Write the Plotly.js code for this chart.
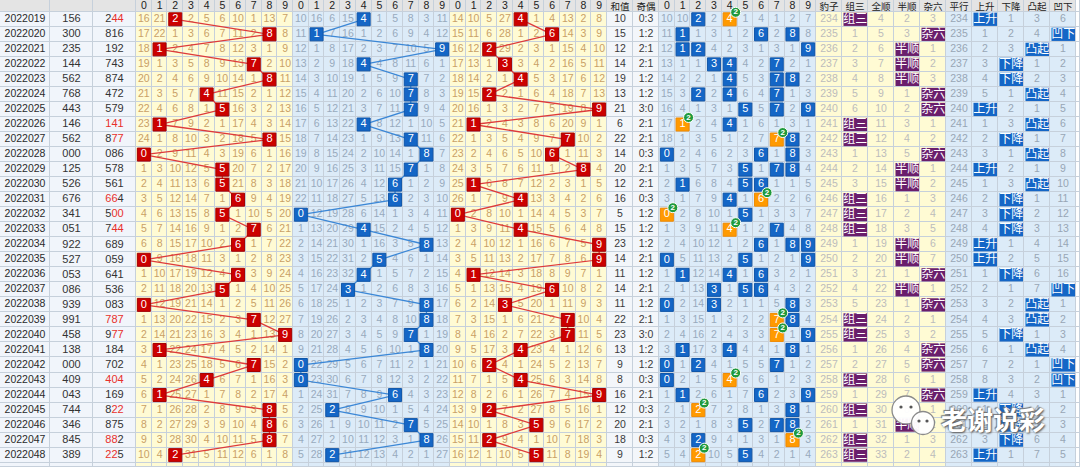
<!DOCTYPE html>
<html><head><meta charset="utf-8">
<script src="https://cdn.plot.ly/plotly-3.0.1.min.js"></script>
<style>html,body{margin:0;padding:0;background:#fff;}#chart{width:1080px;height:467px;}</style>
</head><body><div id="chart"></div>
<script>
// ---------------- DATA ----------------
const periods = ['2022019','2022020','2022021','2022022','2022023','2022024','2022025','2022026','2022027','2022028','2022029','2022030','2022031','2022032','2022033','2022034','2022035','2022036','2022037','2022038','2022039','2022040','2022041','2022042','2022043','2022044','2022045','2022046','2022047','2022048'];
const testNums = ['156','300','235','144','562','768','443','146','562','000','125','526','676','341','051','922','527','053','086','939','991','458','138','000','409','043','744','346','845','389'];
const drawNums = ['244','816','192','743','874','472','579','141','877','086','578','561','664','500','744','689','059','641','536','083','787','977','184','702','404','169','822','875','882','225'];
const sums = [10,15,12,14,19,13,21,6,22,14,20,12,16,5,15,23,14,11,14,11,22,23,13,9,8,16,12,20,18,9];
const oddEven = ['0:3','1:2','2:1','2:1','1:2','1:2','3:0','2:1','2:1','0:3','2:1','2:1','0:3','1:2','1:2','1:2','2:1','1:2','2:1','1:2','2:1','3:0','1:2','1:2','0:3','2:1','0:3','2:1','0:3','1:2'];
const shapeOf = ['组三','杂六','半顺','半顺','半顺','杂六','杂六','组三','组三','杂六','半顺','半顺','组三','组三','组三','半顺','半顺','杂六','半顺','杂六','组三','组三','杂六','杂六','组三','杂六','组三','半顺','组三','组三'];
const trendOf = ['上升','凹下','凸起','下降','下降','凸起','上升','凸起','下降','凸起','上升','凸起','下降','下降','下降','上升','上升','下降','凹下','凸起','凸起','下降','凸起','凹下','凹下','上升','下降','下降','下降','上升'];
const digitLabels = ['0','1','2','3','4','5','6','7','8','9'];
const shapeLabels = ['豹子','组三','全顺','半顺','杂六'];
const trendLabels = ['平行','上升','下降','凸起','凹下'];
// omission counts shown in the first row (2022019), hit cells = 0
const hundredsFirst = [16,21,0,2,5,6,10,1,13,7];
const tensFirst     = [10,16,6,15,0,1,5,8,3,11];
const unitsFirst    = [14,10,5,27,0,1,4,13,2,8];
const distFirst     = [10,10,0,2,0,1,4,1,2,7];
const shapeFirst    = [234,0,4,2,3];
const trendFirst    = [234,0,1,3,6];

// ---------------- LAYOUT GEOMETRY ----------------
const ROW_H = 15.03, ROW0 = 19.3, H = 467;
const Y_TOP = -ROW0 / ROW_H, Y_BOT = (H - ROW0) / ROW_H;
const HEAD_Y = (6.6 - ROW0) / ROW_H;
const HEAD_Y_CJK = (7.4 - ROW0) / ROW_H;
const cols = [];
function addCol(w, kind, label) {
  const x0 = cols.length ? cols[cols.length - 1].x1 : 0;
  cols.push({x0, x1: x0 + w, xc: x0 + w / 2, kind, label});
  return cols[cols.length - 1];
}
const cPeriod = addCol(50, 0, '');
const cTest = addCol(43, 0, '');
const cDraw = addCol(43, 0, '');
const cH = digitLabels.map(d => addCol(15.7, 1, d));
const cT = digitLabels.map(d => addCol(15.7, 2, d));
const cU = digitLabels.map(d => addCol(15.7, 1, d));
const cSum = addCol(26, 4, '和值');
const cOE = addCol(26, 4, '奇偶');
const cD = digitLabels.map(d => addCol(15.7, 2, d));
const cS = shapeLabels.map(l => addCol(26, 1, l));
const cR = trendLabels.map(l => addCol(26, 2, l));
addCol(4, 5, '');

// ---------------- HELPERS ----------------
function omission(hitRows, first) {
  const out = []; let prev = null;
  hitRows.forEach((hits, r) => {
    const row = first.map((v, k) => hits.includes(k) ? 0 : (r === 0 ? v : prev[k] + 1));
    out.push(row); prev = row;
  });
  return out;
}
const digitsOf = drawNums.map(s => s.split('').map(Number));
const hHits = digitsOf.map(d => [d[0]]);
const tHits = digitsOf.map(d => [d[1]]);
const uHits = digitsOf.map(d => [d[2]]);
const dHits = digitsOf.map(d => [...new Set(d)]);
const sHits = shapeOf.map(s => [shapeLabels.indexOf(s)]);
const rHits = trendOf.map(s => [trendLabels.indexOf(s)]);
const hOm = omission(hHits, hundredsFirst), tOm = omission(tHits, tensFirst), uOm = omission(uHits, unitsFirst);
const dOm = omission(dHits, distFirst), sOm = omission(sHits, shapeFirst), rOm = omission(rHits, trendFirst);

function drawHtml(s) {
  const d = s.split('');
  const cnt = {}; d.forEach(c => cnt[c] = (cnt[c] || 0) + 1);
  const pairDigit = Object.keys(cnt).find(c => cnt[c] === 2);
  if (!pairDigit) return s;
  const allRed = d[0] === d[2];
  return d.map(c => (allRed || c === pairDigit) ? '<span style="color:#e8302c">' + c + '</span>' : c).join('');
}

const TG = {};
function addText(g, x, y, t) { (TG[g] = TG[g] || {x: [], y: [], text: []}); TG[g].x.push(x); TG[g].y.push(y); TG[g].text.push(t); }
const MK = {};
function addMark(g, x, y) { (MK[g] = MK[g] || {x: [], y: []}); MK[g].x.push(x); MK[g].y.push(y); }
const LN = {hund: {x: [], y: []}, tens: {x: [], y: []}, units: {x: [], y: []}};

// header
cols.forEach(c => {
  if (!c.label) return;
  if (/^\d$/.test(c.label)) addText('head', c.xc, HEAD_Y, c.label);
  else addText('headCJK', c.xc, HEAD_Y_CJK, c.label);
});

const shapesL = [];
const BADGE_DY = -7 / ROW_H;
function boxShape(c, r, color, label) {
  return {type: 'rect', xref: 'x', yref: 'y', x0: c.x0 + 1.5, x1: c.x1 - 1, y0: r - 0.44, y1: r + 0.44,
    fillcolor: color, line: {width: 0}, layer: 'above',
    label: {text: label, font: {family: 'Noto Sans CJK SC', size: 12, color: '#ffffff'}, textposition: 'middle center'}};
}
for (let r = 0; r < periods.length; r++) {
  addText('period', cPeriod.xc, r, periods[r]);
  addText('num', cTest.xc, r, testNums[r]);
  addText('num', cDraw.xc, r, drawHtml(drawNums[r]));
  [[cH, hOm, hHits, 'hund', 'red', 'yTxt'], [cT, tOm, tHits, 'tens', 'blue', 'bTxt'], [cU, uOm, uHits, 'units', 'red', 'yTxt']].forEach(([cc, om, hits, ln, mk, tg]) => {
    cc.forEach((c, k) => {
      if (hits[r].includes(k)) {
        addMark(mk, c.xc, r); addText('hitTxt', c.xc, r, digitLabels[k]);
        LN[ln].x.push(c.xc); LN[ln].y.push(r);
      } else addText(tg, c.xc, r, String(om[r][k]));
    });
  });
  addText('sum', cSum.xc, r, String(sums[r]));
  addText('sum', cOE.xc, r, oddEven[r]);
  cD.forEach((c, k) => {
    if (dHits[r].includes(k)) {
      const n = digitsOf[r].filter(v => v === k).length;
      if (n >= 2) {
        addMark('orange', c.xc, r);
        addMark('badge', c.xc + 6, r + BADGE_DY); addText('badgeTxt', c.xc + 6, r + BADGE_DY, String(n));
      } else addMark('blue', c.xc, r);
      addText('hitTxt', c.xc, r, digitLabels[k]);
    } else addText('bTxt', c.xc, r, String(dOm[r][k]));
  });
  cS.forEach((c, k) => {
    if (sHits[r].includes(k)) shapesL.push(boxShape(c, r, '#6a1e6c', shapeLabels[k]));
    else addText('sTxt', c.xc, r, String(sOm[r][k]));
  });
  cR.forEach((c, k) => {
    if (rHits[r].includes(k)) shapesL.push(boxShape(c, r, '#1466c6', trendLabels[k]));
    else addText('rTxt', c.xc, r, String(rOm[r][k]));
  });
}

// ---------------- TRACES ----------------
const bgColors = ['#f1f5fb', '#fffbd4', '#dcebf8', '#e4e4e4', '#f3f6fa', '#ffffff'];
const colorscale = [];
bgColors.forEach((c, k) => { colorscale.push([k / 6, c]); colorscale.push([(k + 1) / 6, c]); });
const xEdges = [0, ...cols.map(c => c.x1)];
const yEdges = [Y_TOP, -0.5];
for (let r = 0; r < periods.length; r++) yEdges.push(r + 0.5);
yEdges.push(Y_BOT);
const zBg = [cols.map(c => c.kind === 5 ? 5 : 3)];
for (let r = 0; r <= periods.length; r++) zBg.push(cols.map(c => c.kind));

const traces = [{
  type: 'heatmap', x: xEdges, y: yEdges, z: zBg, zmin: -0.5, zmax: 5.5, colorscale,
  showscale: false, xgap: 1, ygap: 1, hoverinfo: 'skip'
}];
const NUMF = 'Liberation Sans, Arial, sans-serif';
const CJKF = 'Noto Sans CJK SC, sans-serif';
const textStyle = {
  head: {family: NUMF, size: 10.5, color: '#222'},
  headCJK: {family: CJKF, size: 9.5, color: '#222'},
  period: {family: NUMF, size: 10.5, color: '#2a2a2a'},
  num: {family: NUMF, size: 11, color: '#333'},
  yTxt: {family: NUMF, size: 10.5, color: '#c9a066'},
  bTxt: {family: NUMF, size: 10.5, color: '#98aabd'},
  sum: {family: NUMF, size: 10.5, color: '#3a3a3a'},
  sTxt: {family: NUMF, size: 10.5, color: '#bcbcbc'},
  rTxt: {family: NUMF, size: 10.5, color: '#98a6b5'}
};
['head', 'headCJK', 'period', 'num', 'yTxt', 'bTxt', 'sum', 'sTxt', 'rTxt'].forEach(g => {
  traces.push({type: 'scatter', mode: 'text', x: TG[g].x, y: TG[g].y, text: TG[g].text,
    textposition: 'middle center', textfont: textStyle[g], hoverinfo: 'skip', cliponaxis: false});
});
[['hund', '#de3a3a'], ['tens', '#3b87d6'], ['units', '#de3a3a']].forEach(([k, col]) => {
  traces.push({type: 'scatter', mode: 'lines', x: LN[k].x, y: LN[k].y, line: {color: col, width: 1.3}, hoverinfo: 'skip'});
});
const markStyle = {
  red: {color: '#cc0000', line: {color: '#a30000', width: 1}},
  blue: {color: '#1466c6', line: {color: '#0f55a8', width: 1}},
  orange: {color: '#ff9a00', line: {color: '#f08a00', width: 1}}
};
['red', 'blue', 'orange'].forEach(g => {
  if (!MK[g]) return;
  traces.push({type: 'scatter', mode: 'markers', x: MK[g].x, y: MK[g].y,
    marker: Object.assign({symbol: 'square', size: 13}, markStyle[g]), hoverinfo: 'skip'});
});
traces.push({type: 'scatter', mode: 'text', x: TG.hitTxt.x, y: TG.hitTxt.y, text: TG.hitTxt.text,
  textposition: 'middle center', textfont: {family: NUMF, size: 11, color: '#ffffff'}, hoverinfo: 'skip'});
traces.push({type: 'scatter', mode: 'markers', x: MK.badge.x, y: MK.badge.y,
  marker: {symbol: 'circle', size: 10, color: '#1f9a3c', line: {color: '#ffffff', width: 1}}, hoverinfo: 'skip'});
traces.push({type: 'scatter', mode: 'text', x: TG.badgeTxt.x, y: TG.badgeTxt.y, text: TG.badgeTxt.text,
  textposition: 'middle center', textfont: {family: NUMF, size: 8, color: '#ffffff', weight: 'bold'}, hoverinfo: 'skip'});

// watermark (decorative overlay)
const px = v => v / 1080, py = v => 1 - v / H;
const wm = [
  {cx: 906, cy: 410, r: 14},
  {cx: 923, cy: 423, r: 11.5}
];
wm.forEach(b => shapesL.push({type: 'circle', xref: 'paper', yref: 'paper', x0: px(b.cx - b.r), x1: px(b.cx + b.r),
  y0: py(b.cy + b.r), y1: py(b.cy - b.r), fillcolor: 'rgba(255,255,255,0.95)', line: {color: '#8a8a8a', width: 1.3}, layer: 'above'}));
[[901, 407], [911, 407], [919, 421], [927, 421]].forEach(([x, y]) => shapesL.push({type: 'circle', xref: 'paper', yref: 'paper',
  x0: px(x - 1.6), x1: px(x + 1.6), y0: py(y + 1.6), y1: py(y - 1.6), fillcolor: '#555', line: {width: 0}, layer: 'above'}));

const layout = {
  width: 1080, height: 467, margin: {l: 0, r: 0, t: 0, b: 0}, showlegend: false,
  paper_bgcolor: '#ffffff', plot_bgcolor: '#c6d0db',
  xaxis: {range: [0, 1080], visible: false, fixedrange: true},
  yaxis: {range: [Y_BOT, Y_TOP], visible: false, fixedrange: true},
  shapes: shapesL,
  annotations: [{xref: 'paper', yref: 'paper', x: px(993), y: py(418), xanchor: 'center', yanchor: 'middle',
    text: '老谢说彩', showarrow: false,
    font: {family: CJKF, size: 26, color: '#ffffff', weight: 'bold', shadow: '1px 1px 2px #555, -1px -1px 1px #777'}}]
};
Plotly.newPlot('chart', traces, layout, {staticPlot: true, displayModeBar: false});
</script></body></html>
